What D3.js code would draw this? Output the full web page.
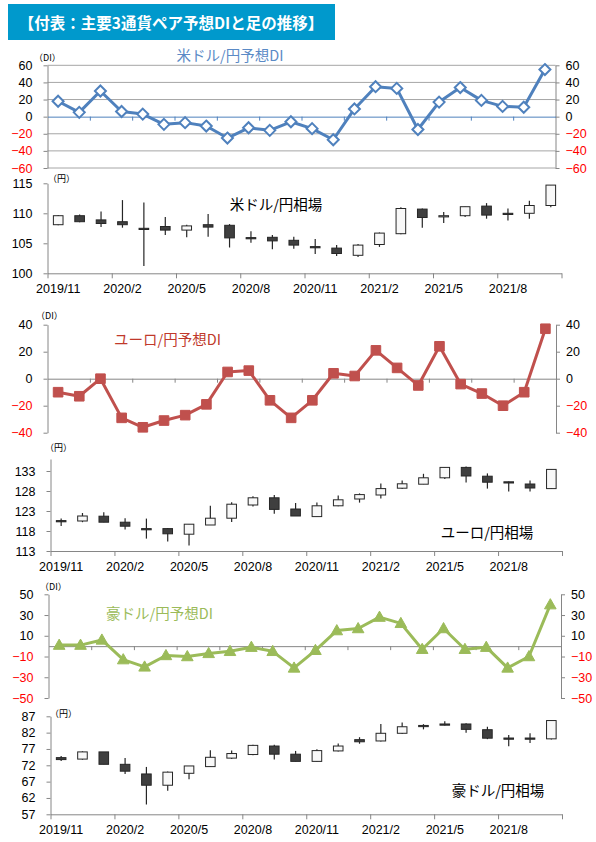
<!DOCTYPE html>
<html>
<head>
<meta charset="utf-8">
<script src="https://cdn.jsdelivr.net/npm/d3@7"></script>
<style>
  body { margin: 0; background: #fff; }
  svg { display: block; }
  .tick text { font-family: 'Liberation Sans', Arial, sans-serif; font-size: 12.5px; }
  .jp { font-family: 'Noto Sans CJK JP', sans-serif; }
</style>
</head>
<body>
<div id="chart"></div>
<script>
// months shown on the category axis (24 monthly points)
const months = [
  '2019/11', '2019/12', '2020/1', '2020/2', '2020/3', '2020/4', '2020/5', '2020/6',
  '2020/7', '2020/8', '2020/9', '2020/10', '2020/11', '2020/12', '2021/1', '2021/2',
  '2021/3', '2021/4', '2021/5', '2021/6', '2021/7', '2021/8', '2021/9', '2021/10'
];
const dateLabels = ['2019/11', '2020/2', '2020/5', '2020/8', '2020/11', '2021/2', '2021/5', '2021/8'];

// forecast DI series
const usdDI = [18, 5, 30, 6, 3, -9, -7, -11, -25, -13, -16, -6, -14, -27, 9, 35, 33, -15, 17, 34, 19, 12, 11, 55];
const eurDI = [-10, -13, 0, -29, -36, -31, -27, -19, 5, 6, -16, -29, -16, 4, 2, 21, 8, -5, 24, -4, -11, -20, -10, 37];
const audDI = [1, 1, 6, -13, -20, -9, -10, -7, -5, -1, -5, -21, -4, 15, 17, 28, 22, -3, 17, -3, -1, -21, -10, 40];

// monthly candles: [open, high, low, close]
const usdCandles = [
  [108.1, 109.7, 108.0, 109.6], [109.6, 109.8, 108.5, 108.6], [108.9, 110.3, 107.7, 108.3],
  [108.6, 112.2, 107.6, 108.1], [107.5, 111.8, 101.2, 107.4], [107.8, 109.4, 106.4, 107.2],
  [107.2, 108.1, 106.0, 107.9], [108.1, 109.9, 106.1, 107.7], [108.0, 108.2, 104.3, 105.9],
  [105.95, 107.0, 105.1, 105.85], [106.0, 106.4, 104.0, 105.4], [105.5, 106.1, 104.1, 104.7],
  [104.45, 105.7, 103.2, 104.35], [104.2, 104.7, 102.9, 103.3], [103.0, 104.9, 102.7, 104.7],
  [104.8, 106.8, 104.4, 106.7], [106.6, 111.0, 106.5, 110.8], [110.7, 110.8, 107.6, 109.3],
  [109.45, 110.2, 108.4, 109.6], [109.6, 111.1, 109.4, 111.1], [111.2, 111.7, 109.1, 109.7],
  [110.0, 110.8, 108.8, 109.9], [110.0, 112.1, 109.1, 111.3], [111.3, 114.7, 111.0, 114.7]
];
const eurCandles = [
  [120.6, 121.1, 119.25, 120.45], [120.5, 122.5, 120.2, 121.75], [121.7, 122.7, 120.2, 120.2],
  [120.2, 121.2, 118.4, 119.2], [118.6, 121.1, 116.1, 118.5], [118.6, 118.75, 115.4, 117.3],
  [117.2, 119.7, 114.4, 119.7], [119.5, 124.3, 119.5, 121.2], [121.2, 125.2, 120.25, 124.7],
  [124.5, 126.7, 124.1, 126.3], [126.3, 127.0, 122.3, 123.4], [123.5, 125.0, 121.75, 121.75],
  [121.6, 125.1, 121.6, 124.3], [124.3, 126.9, 124.2, 125.8], [126.0, 127.4, 125.1, 127.1],
  [127.0, 129.9, 126.1, 128.6], [128.7, 130.6, 128.5, 129.8], [129.7, 132.3, 129.7, 131.3],
  [131.3, 133.9, 131.0, 133.9], [133.9, 134.1, 130.1, 131.75], [131.7, 132.4, 128.6, 130.2],
  [130.3, 130.4, 127.9, 130.15], [129.75, 130.6, 127.9, 128.75], [128.6, 133.4, 128.5, 133.4]
];
const audCandles = [
  [74.35, 74.85, 73.3, 73.75], [73.9, 76.3, 73.7, 76.1], [76.1, 76.1, 72.3, 72.3],
  [72.3, 74.2, 69.35, 70.2], [69.35, 71.5, 60.0, 65.9], [65.9, 70.1, 64.2, 69.9],
  [69.55, 71.8, 67.7, 71.8], [71.6, 76.6, 71.6, 74.45], [74.2, 76.5, 73.9, 75.6],
  [75.3, 78.3, 75.1, 78.1], [77.9, 78.3, 73.8, 75.4], [75.4, 76.4, 73.2, 73.2],
  [73.2, 76.9, 73.2, 76.5], [76.4, 78.7, 76.2, 77.9], [79.85, 80.6, 78.6, 79.2],
  [79.45, 84.65, 79.3, 81.8], [81.8, 85.1, 81.6, 83.8], [84.2, 84.6, 83.0, 84.05],
  [84.65, 85.5, 84.2, 84.3], [84.65, 84.9, 82.0, 83.0], [82.9, 83.8, 80.0, 80.3],
  [80.35, 81.3, 77.8, 80.25], [80.35, 81.8, 78.8, 80.25], [80.1, 85.7, 79.9, 85.7]
];

// axis tick values
const usdDITicks = [-60, -40, -20, 0, 20, 40, 60];
const eurDITicks = [-40, -20, 0, 20, 40];
const audDITicks = [-50, -30, -10, 10, 30, 50];
const usdTicks = [100, 105, 110, 115];
const eurTicks = [113, 118, 123, 128, 133];
const audTicks = [57, 62, 67, 72, 77, 82, 87];

const width = 596;
const height = 842;
const axisGrey = '#868686';

const svg = d3.select('#chart')
  .append('svg')
  .attr('width', width)
  .attr('height', height);

// title banner
svg.append('rect')
  .attr('x', 8).attr('y', 4).attr('width', 327).attr('height', 36)
  .attr('fill', '#0099cc');
svg.append('text')
  .attr('class', 'jp')
  .attr('x', 171).attr('y', 22)
  .attr('text-anchor', 'middle')
  .attr('dominant-baseline', 'central')
  .attr('fill', '#fff')
  .style('font-size', '15.5px')
  .style('font-weight', 'bold')
  .text('【付表：主要3通貨ペア予想DIと足の推移】');

const signColor = (d) => (d < 0 ? '#ff0000' : '#000');

const styleAxis = (sel) => {
  sel.select('.domain').attr('stroke', axisGrey);
  sel.selectAll('.tick line').attr('stroke', axisGrey);
  sel.selectAll('.tick text').attr('fill', signColor);
};

const smallLabel = (x, y, txt) => {
  svg.append('text')
    .attr('class', 'jp')
    .attr('x', x).attr('y', y)
    .attr('dominant-baseline', 'central')
    .style('font-size', '9px')
    .attr('fill', '#000')
    .text(txt);
};

function drawDI(cfg) {
  const g = svg.append('g');
  const idx = d3.scaleLinear().domain([0, months.length]).range([cfg.x0, cfg.x1]);
  const y = d3.scaleLinear().domain(cfg.domain).range([cfg.yBottom, cfg.yTop]);

  if (cfg.grid) {
    g.append('g')
      .selectAll('line')
      .data(cfg.ticks.filter((t) => t !== 0))
      .join('line')
      .attr('x1', cfg.x0).attr('x2', cfg.x1)
      .attr('y1', (d) => y(d)).attr('y2', (d) => y(d))
      .attr('stroke', '#a6a6a6');
  }

  g.append('g')
    .attr('transform', `translate(${cfg.x0},0)`)
    .call(d3.axisLeft(y).tickValues(cfg.ticks).tickSize(4).tickSizeOuter(0).tickPadding(11))
    .call(styleAxis);

  g.append('g')
    .attr('transform', `translate(${cfg.x1},0)`)
    .call(d3.axisRight(y).tickValues(cfg.ticks).tickSize(4).tickSizeOuter(0).tickPadding(6))
    .call(styleAxis);

  // category axis sits on the zero line
  const zero = g.append('g')
    .attr('transform', `translate(0,${y(0)})`)
    .call(d3.axisBottom(idx).tickValues(d3.range(2, months.length, 2)).tickSize(4).tickSizeOuter(0).tickFormat(''));
  zero.select('.domain').attr('stroke', cfg.zeroColor);
  zero.selectAll('.tick line').attr('stroke', cfg.zeroColor);

  const line = d3.line()
    .x((d, i) => idx(i + 0.5))
    .y((d) => y(d));

  g.append('path')
    .datum(cfg.values)
    .attr('d', line)
    .attr('fill', 'none')
    .attr('stroke', cfg.color)
    .attr('stroke-width', 3)
    .attr('stroke-linejoin', 'round');

  g.append('g')
    .selectAll('path')
    .data(cfg.values)
    .join('path')
    .attr('transform', (d, i) => `translate(${idx(i + 0.5)},${y(d)})`)
    .attr('d', cfg.marker)
    .attr('fill', cfg.markerFill)
    .attr('stroke', cfg.color)
    .attr('stroke-width', cfg.markerStroke);

  svg.append('text')
    .attr('class', 'jp')
    .attr('x', cfg.titleX).attr('y', cfg.titleY)
    .attr('text-anchor', cfg.titleAnchor)
    .attr('dominant-baseline', 'central')
    .attr('fill', cfg.titleColor)
    .style('font-size', '14.5px')
    .text(cfg.title);

  smallLabel(cfg.unitX, cfg.unitY, '（DI）');
}

function drawCandles(cfg) {
  const g = svg.append('g');
  const x = d3.scaleBand().domain(months).range([cfg.x0, cfg.x1]).paddingInner(0.55).paddingOuter(0.275);
  const idx = d3.scaleLinear().domain([0, months.length]).range([cfg.x0, cfg.x1]);
  const y = d3.scaleLinear().domain(cfg.domain).range([cfg.yBottom, cfg.yTop]);

  g.append('g')
    .attr('transform', `translate(${cfg.x0},0)`)
    .call(d3.axisLeft(y).tickValues(cfg.ticks).tickSize(4).tickSizeOuter(0).tickPadding(11))
    .call(styleAxis);

  g.append('g')
    .attr('transform', `translate(0,${cfg.yBottom})`)
    .call(d3.axisBottom(idx).tickValues(d3.range(0, months.length + 1, 3)).tickSize(5).tickSizeOuter(0).tickFormat(''))
    .call(styleAxis);

  g.append('g')
    .attr('transform', `translate(0,${cfg.yBottom})`)
    .call(d3.axisBottom(x).tickValues(dateLabels).tickSize(0).tickPadding(11))
    .call((a) => a.select('.domain').remove())
    .call((a) => a.selectAll('.tick text').attr('fill', '#000'));

  const candles = g.append('g')
    .selectAll('g')
    .data(cfg.values.map((v, i) => ({ m: months[i], o: v[0], h: v[1], l: v[2], c: v[3] })))
    .join('g');

  candles.append('line')
    .attr('x1', (d) => x(d.m) + x.bandwidth() / 2)
    .attr('x2', (d) => x(d.m) + x.bandwidth() / 2)
    .attr('y1', (d) => y(d.h))
    .attr('y2', (d) => y(d.l))
    .attr('stroke', '#262626')
    .attr('stroke-width', 1.2);

  candles.append('rect')
    .attr('x', (d) => x(d.m))
    .attr('width', x.bandwidth())
    .attr('y', (d) => y(Math.max(d.o, d.c)))
    .attr('height', (d) => Math.max(1.2, Math.abs(y(d.o) - y(d.c))))
    .attr('fill', (d) => (d.c < d.o ? '#3f3f3f' : '#f8f8f8'))
    .attr('stroke', '#262626')
    .attr('stroke-width', 1);

  svg.append('text')
    .attr('class', 'jp')
    .attr('x', cfg.titleX).attr('y', cfg.titleY)
    .attr('text-anchor', 'middle')
    .attr('dominant-baseline', 'central')
    .attr('fill', '#000')
    .style('font-size', '14.5px')
    .text(cfg.title);

  smallLabel(cfg.unitX, cfg.unitY, '（円）');
}

const diamond = 'M0,-5.5L5.5,0L0,5.5L-5.5,0Z';
const square = 'M-4.8,-4.8H4.8V4.8H-4.8Z';
const triangle = 'M0,-6L5.8,4.2H-5.8Z';

drawDI({
  values: usdDI, ticks: usdDITicks, domain: [-60, 60],
  x0: 47.5, x1: 555.5, yBottom: 168, yTop: 65.3,
  grid: true, zeroColor: '#4f81bd',
  color: '#4f81bd', marker: diamond, markerFill: '#fff', markerStroke: 2,
  title: '米ドル/円予想DI', titleX: 230, titleY: 54, titleAnchor: 'middle', titleColor: '#5a8ac6',
  unitX: 34, unitY: 57
});

drawCandles({
  values: usdCandles, ticks: usdTicks, domain: [100, 115],
  x0: 47.5, x1: 561.5, yBottom: 273.3, yTop: 183.3,
  title: '米ドル/円相場', titleX: 276, titleY: 203,
  unitX: 48, unitY: 178
});

drawDI({
  values: eurDI, ticks: eurDITicks, domain: [-40, 40],
  x0: 47.5, x1: 556, yBottom: 432.7, yTop: 324.7,
  grid: false, zeroColor: axisGrey,
  color: '#c0504d', marker: square, markerFill: '#c0504d', markerStroke: 1,
  title: 'ユーロ/円予想DI', titleX: 114, titleY: 338, titleAnchor: 'start', titleColor: '#c0392b',
  unitX: 36, unitY: 315
});

drawCandles({
  values: eurCandles, ticks: eurTicks, domain: [113, 136],
  x0: 50.5, x1: 562, yBottom: 551, yTop: 459,
  title: 'ユーロ/円相場', titleX: 487, titleY: 531,
  unitX: 45, unitY: 447
});

drawDI({
  values: audDI, ticks: audDITicks, domain: [-50, 50],
  x0: 48.5, x1: 561, yBottom: 698, yTop: 594.3,
  grid: false, zeroColor: axisGrey,
  color: '#9bbb59', marker: triangle, markerFill: '#9bbb59', markerStroke: 1,
  title: '豪ドル/円予想DI', titleX: 106, titleY: 612, titleAnchor: 'start', titleColor: '#9bbb59',
  unitX: 40, unitY: 586
});

drawCandles({
  values: audCandles, ticks: audTicks, domain: [57, 87],
  x0: 50.5, x1: 562, yBottom: 814.3, yTop: 716.3,
  title: '豪ドル/円相場', titleX: 498, titleY: 789,
  unitX: 50, unitY: 713
});
</script>
</body>
</html>
